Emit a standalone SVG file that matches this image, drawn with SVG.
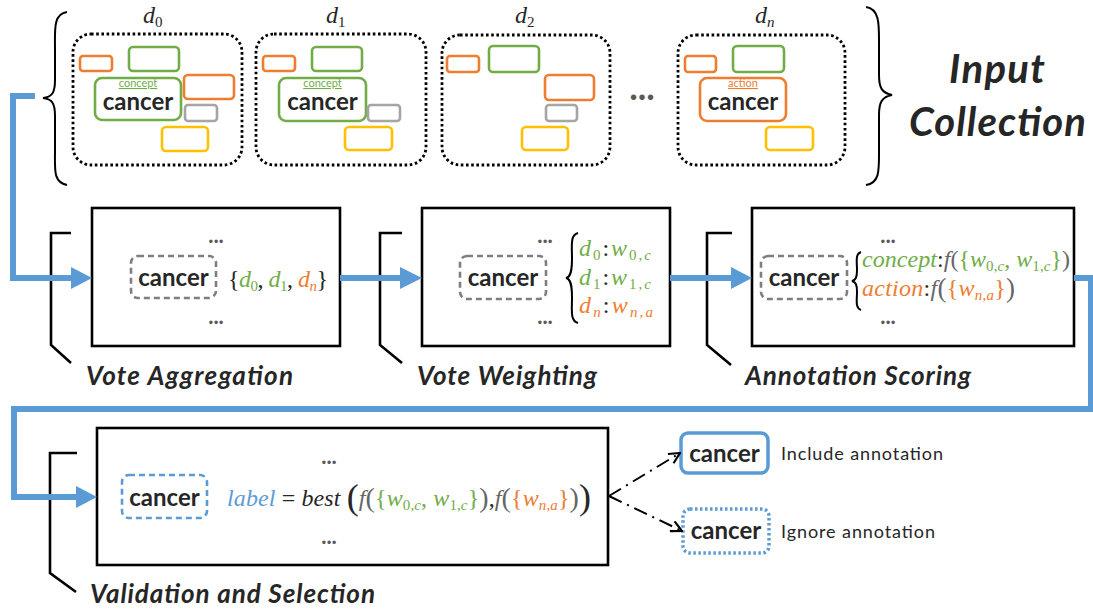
<svg xmlns="http://www.w3.org/2000/svg" width="1093" height="611" viewBox="0 0 1093 611">
<defs>
<style>
.doc{fill:none;stroke:#000;stroke-width:2.8;stroke-dasharray:2.6 2.6}
.r{fill:none;stroke-width:2.6}
.o{stroke:#ED7D31}.g{stroke:#70AD47}.gr{stroke:#A5A5A5}.y{stroke:#FFC000}
.box{fill:none;stroke:#000;stroke-width:2.6}
.brk{fill:none;stroke:#000;stroke-width:2.6}
.dash{fill:none;stroke:#7F7F7F;stroke-width:2.6;stroke-dasharray:6 4}
.bl{stroke:#5B9BD5;stroke-width:6;fill:none}
.blf{fill:#5B9BD5}
.can{font-family:Lato,"Liberation Sans",sans-serif;font-weight:bold;font-size:24px;fill:#262626;text-anchor:middle}
.tag{font-family:Lato,"Liberation Sans",sans-serif;font-size:11px;text-anchor:middle;text-decoration:underline}
.lbl{font-family:Lato,"Liberation Sans",sans-serif;font-weight:bold;font-style:italic;font-size:26px;fill:#262626}
.big{font-family:Lato,"Liberation Sans",sans-serif;font-weight:bold;font-style:italic;font-size:40px;fill:#262626}
.dots{font-family:Lato,"Liberation Sans",sans-serif;font-weight:bold;font-size:22px;fill:#595959;text-anchor:middle}
.hdots{font-family:Lato,"Liberation Sans",sans-serif;font-weight:bold;font-size:36px;fill:#595959;text-anchor:middle}
.m{font-family:"Liberation Serif",serif;font-style:italic;font-size:24px;fill:#262626}
.s{font-size:15px;font-style:normal}
.si{font-size:15px;font-style:italic}
.n{font-style:normal}
.G{fill:#70AD47}.O{fill:#ED7D31}.K{fill:#262626}.F{fill:#666}.B{fill:#5B9BD5}
.txt{font-family:Lato,"Liberation Sans",sans-serif;font-size:18px;fill:#262626}
.brace{fill:none;stroke:#000;stroke-width:2}
</style>
<marker id="open" viewBox="0 0 12 12" refX="11" refY="6" markerWidth="13" markerHeight="13" markerUnits="userSpaceOnUse" orient="auto">
<path d="M1,1 L11,6 L1,11" fill="none" stroke="#000" stroke-width="2"/>
</marker>
</defs>

<g id="input-collection">
<path class="brace" stroke-width="3" d="M67,12 C53,14 55,30 55,50 L55,80 C55,93 52,97 43,98 C52,99 55,103 55,116 L55,150 C55,170 53,182 67,185"/>
<path class="brace" stroke-width="3" d="M866,7 C880,9 879,25 879,45 L879,75 C879,88 882,93 892,95 C882,97 879,102 879,115 L879,150 C879,170 880,183 866,185"/>
<text class="big" x="949" y="83" textLength="96">Input</text>
<text class="big" x="909" y="136" textLength="177">Collection</text>
<text class="hdots" x="642" y="100">...</text>
</g>

<g id="doc-d0">
<rect class="doc" x="73" y="34" width="169" height="131" rx="18"/>
<text class="m" x="143" y="23">d<tspan class="s" dy="4">0</tspan></text>
<rect class="r o" x="80" y="56" width="32" height="15" rx="3"/>
<rect class="r g" x="129" y="47" width="50" height="24" rx="4"/>
<rect class="r g" x="95" y="78" width="86" height="42" rx="7"/>
<rect class="r o" x="184" y="75" width="50" height="24" rx="4"/>
<rect class="r gr" x="185" y="105" width="32" height="16" rx="3"/>
<rect class="r y" x="162" y="127" width="46" height="24" rx="4"/>
<text class="tag G" x="138" y="87">concept</text>
<text class="can" x="138" y="110">cancer</text>
</g>

<g id="doc-d1">
<rect class="doc" x="256" y="34" width="170" height="131" rx="18"/>
<text class="m" x="326" y="23">d<tspan class="s" dy="4">1</tspan></text>
<rect class="r o" x="263" y="56" width="32" height="15" rx="3"/>
<rect class="r g" x="312" y="47" width="50" height="24" rx="4"/>
<rect class="r g" x="279" y="78" width="87" height="43" rx="7"/>
<rect class="r gr" x="368" y="105" width="32" height="16" rx="3"/>
<rect class="r y" x="345" y="127" width="47" height="23" rx="4"/>
<text class="tag G" x="322.5" y="87">concept</text>
<text class="can" x="322.5" y="110">cancer</text>
</g>

<g id="doc-d2">
<rect class="doc" x="442" y="35" width="168" height="130" rx="18"/>
<text class="m" x="515" y="23">d<tspan class="s" dy="4">2</tspan></text>
<rect class="r o" x="447" y="56" width="32" height="16" rx="3"/>
<rect class="r g" x="489" y="46" width="50" height="26" rx="4"/>
<rect class="r o" x="545" y="75" width="49" height="25" rx="4"/>
<rect class="r gr" x="546" y="105" width="31" height="16" rx="3"/>
<rect class="r y" x="522" y="127" width="46" height="23" rx="4"/>
</g>

<g id="doc-dn">
<rect class="doc" x="678" y="35" width="167" height="130" rx="18"/>
<text class="m" x="755" y="23">d<tspan class="si" dy="4">n</tspan></text>
<rect class="r o" x="685" y="56" width="31" height="16" rx="3"/>
<rect class="r g" x="733" y="46" width="51" height="26" rx="4"/>
<rect class="r o" x="700" y="78" width="86" height="43" rx="7"/>
<rect class="r y" x="766" y="127" width="47" height="23" rx="4"/>
<text class="tag O" x="743" y="87">action</text>
<text class="can" x="743" y="110">cancer</text>
</g>

<g id="vote-aggregation">
<path class="brk" d="M71,233 H51 V345 L71,363"/>
<rect class="box" x="92" y="208" width="248" height="138"/>
<text class="dots" x="216" y="243">...</text>
<text class="dots" x="216" y="324">...</text>
<rect class="dash" x="131" y="256" width="85" height="42" rx="7"/>
<text class="can" x="173.5" y="286">cancer</text>
<text class="m" x="228" y="287" textLength="100"><tspan class="n K">{</tspan><tspan class="G">d</tspan><tspan class="s G" dy="4">0</tspan><tspan class="n K" dy="-4">, </tspan><tspan class="G">d</tspan><tspan class="s G" dy="4">1</tspan><tspan class="n K" dy="-4">, </tspan><tspan class="O">d</tspan><tspan class="si O" dy="4">n</tspan><tspan class="n K" dy="-4">}</tspan></text>
<text class="lbl" x="86" y="385" textLength="207">Vote Aggregation</text>
</g>

<g id="vote-weighting">
<path class="brk" d="M402,233 H380 V345 L402,363"/>
<rect class="box" x="422" y="208" width="248" height="138"/>
<text class="dots" x="545" y="243">...</text>
<text class="dots" x="545" y="324">...</text>
<rect class="dash" x="460" y="256" width="86" height="43" rx="7"/>
<text class="can" x="503" y="286">cancer</text>
<path class="brace" d="M578,233 C570,235 572,246 572,258 C572,270 571,277 566,278 C571,279 572,286 572,298 C572,310 570,321 578,323"/>
<text class="m" x="579" y="256" textLength="72"><tspan class="G">d</tspan><tspan class="s G" dy="4">0</tspan><tspan class="n K" dy="-4">:</tspan><tspan class="G">w</tspan><tspan class="s G" dy="4">0,</tspan><tspan class="si G">c</tspan></text>
<text class="m" x="579" y="285" textLength="72"><tspan class="G">d</tspan><tspan class="s G" dy="4">1</tspan><tspan class="n K" dy="-4">:</tspan><tspan class="G">w</tspan><tspan class="s G" dy="4">1,</tspan><tspan class="si G">c</tspan></text>
<text class="m" x="579" y="313" textLength="74"><tspan class="O">d</tspan><tspan class="si O" dy="4">n</tspan><tspan class="n K" dy="-4">:</tspan><tspan class="O">w</tspan><tspan class="si O" dy="4">n</tspan><tspan class="s O">,</tspan><tspan class="si O">a</tspan></text>
<text class="lbl" x="417" y="385" textLength="180">Vote Weighting</text>
</g>

<g id="annotation-scoring">
<path class="brk" d="M732,233 H707 V345 L731,365"/>
<rect class="box" x="752" y="208" width="322" height="138"/>
<text class="dots" x="888" y="243">...</text>
<text class="dots" x="888" y="324">...</text>
<rect class="dash" x="761" y="256" width="86" height="43" rx="7"/>
<text class="can" x="804" y="286">cancer</text>
<path class="brace" d="M861,252 C855,254 857,262 857,270 C857,277 856,280 852,281 C856,282 857,285 857,292 C857,300 855,308 861,310"/>
<text class="m" x="862" y="267" textLength="208"><tspan class="G">concept</tspan><tspan class="n K">:</tspan><tspan class="F">f</tspan><tspan class="n F">(</tspan><tspan class="n G">{</tspan><tspan class="G">w</tspan><tspan class="s G" dy="4">0,</tspan><tspan class="si G">c</tspan><tspan class="n G" dy="-4">, </tspan><tspan class="G">w</tspan><tspan class="s G" dy="4">1,</tspan><tspan class="si G">c</tspan><tspan class="n G" dy="-4">}</tspan><tspan class="n F">)</tspan></text>
<text class="m" x="862" y="296" textLength="153"><tspan class="O">action</tspan><tspan class="n K">:</tspan><tspan class="F">f</tspan><tspan class="n F" font-size="27" dy="1">(</tspan><tspan class="n O" dy="-1">{</tspan><tspan class="O">w</tspan><tspan class="si O" dy="4">n</tspan><tspan class="s O">,</tspan><tspan class="si O">a</tspan><tspan class="n O" dy="-4">}</tspan><tspan class="n F" font-size="27" dy="1">)</tspan></text>
<text class="lbl" x="745" y="385" textLength="226">Annotation Scoring</text>
</g>

<g id="validation-selection">
<path class="brk" d="M77,453 H50 V573 L76,592"/>
<rect class="box" x="97" y="428" width="511" height="137"/>
<text class="dots" x="329" y="464">...</text>
<text class="dots" x="329" y="544">...</text>
<rect class="dash" style="stroke:#5B9BD5" x="122" y="475" width="85" height="43" rx="7"/>
<text class="can" x="164.5" y="506">cancer</text>
<text class="m" x="227" y="506" font-size="25" textLength="364"><tspan class="B">label</tspan><tspan class="n K"> = </tspan><tspan class="K">best </tspan><tspan class="n K" font-size="36" dy="3">(</tspan><tspan class="F" dy="-3">f</tspan><tspan class="n F" font-size="28" dy="1">(</tspan><tspan class="n G" dy="-1">{</tspan><tspan class="G">w</tspan><tspan class="s G" dy="4">0,</tspan><tspan class="si G">c</tspan><tspan class="n G" dy="-4">, </tspan><tspan class="G">w</tspan><tspan class="s G" dy="4">1,</tspan><tspan class="si G">c</tspan><tspan class="n G" dy="-4">}</tspan><tspan class="n F" font-size="28" dy="1">)</tspan><tspan class="n K" dy="-1">,</tspan><tspan class="F">f</tspan><tspan class="n F" font-size="28" dy="1">(</tspan><tspan class="n O" dy="-1">{</tspan><tspan class="O">w</tspan><tspan class="si O" dy="4">n</tspan><tspan class="s O">,</tspan><tspan class="si O">a</tspan><tspan class="n O" dy="-4">}</tspan><tspan class="n F" font-size="28" dy="1">)</tspan><tspan class="n K" font-size="36" dy="2">)</tspan></text>
<text class="lbl" x="90" y="603" textLength="285">Validation and Selection</text>
</g>

<g id="include-annotation">
<rect fill="none" stroke="#5B9BD5" stroke-width="3.5" x="681" y="433" width="87" height="40" rx="7"/>
<text class="can" x="724.5" y="462">cancer</text>
<text class="txt" x="781" y="460" textLength="162">Include annotation</text>
</g>

<g id="ignore-annotation">
<rect fill="none" stroke="#5B9BD5" stroke-width="3.5" stroke-dasharray="2.5 2.5" x="683" y="509" width="86" height="44" rx="7"/>
<text class="can" x="726" y="539">cancer</text>
<text class="txt" x="781" y="538" textLength="154">Ignore annotation</text>
</g>

<g id="connectors">
<path class="bl" d="M35,96 H13 V278 H73"/>
<polygon class="blf" points="71,267 92,278 71,289"/>
<path class="bl" d="M340,278 H402"/>
<polygon class="blf" points="400,267 422,278 400,289"/>
<path class="bl" d="M670,278 H733"/>
<polygon class="blf" points="731,267 752,278 731,289"/>
<path class="bl" d="M1074,278 H1091 V409 H14 V497 H78"/>
<polygon class="blf" points="76,486 97,497 76,508"/>
<path d="M609,496 L680,453" fill="none" stroke="#000" stroke-width="2" stroke-dasharray="14 6 2 6" marker-end="url(#open)"/>
<path d="M609,496 L682,531" fill="none" stroke="#000" stroke-width="2" stroke-dasharray="14 6 2 6" marker-end="url(#open)"/>
</g>
</svg>
